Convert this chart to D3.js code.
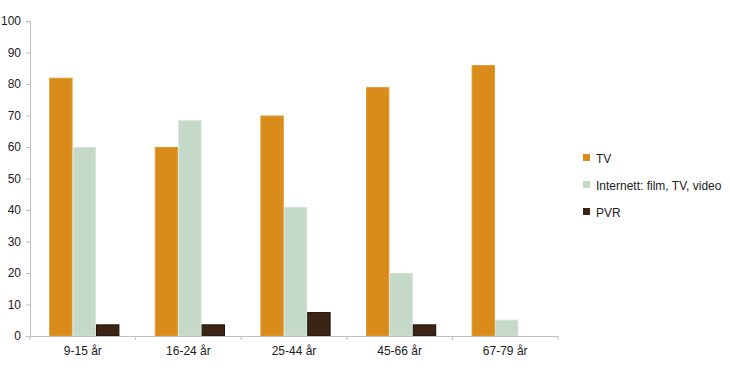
<!DOCTYPE html>
<html><head><meta charset="utf-8">
<script src="https://cdn.jsdelivr.net/npm/d3@7/dist/d3.min.js"></script>
<style>body{margin:0;background:#fff}svg{display:block}text{font-family:"Liberation Sans",Arial,sans-serif}</style>
</head><body><svg id="c" width="730" height="375"></svg>
<script>
const categories = ["9-15 år","16-24 år","25-44 år","45-66 år","67-79 år"];
const seriesNames = ["TV","Internett: film, TV, video","PVR"];
const tv = [82, 60, 70, 79, 86];
const internet = [60, 68.5, 41, 20, 5.2];
const pvr = [3.7, 3.7, 7.6, 3.7, 0];
const yTicks = [0,10,20,30,40,50,60,70,80,90,100];
const colors = ["#D98C1A","#C5D9C9","#3C2415"];
const strokes = ["#E09A35","#D6E4D8","#1E120A"];

const series = [tv, internet, pvr];
const svg = d3.select("#c");
const m = {l:30, r:172, t:21, b:39};
const W = 730, H = 375;
const x = d3.scaleBand().domain(categories).range([m.l, W - m.r]).paddingInner(0).paddingOuter(0);
const y = d3.scaleLinear().domain([0,100]).range([H - m.b, m.t]);
const groupW = x.bandwidth() * 0.665;
const x1 = d3.scaleBand().domain(d3.range(series.length)).range([0, groupW]);

// y axis
const ya = svg.append("g").attr("transform", `translate(${m.l},0)`)
  .call(d3.axisLeft(y).tickValues(yTicks).tickSize(4).tickPadding(5));
ya.select(".domain").attr("stroke","#bfbfbf");
ya.selectAll(".tick line").attr("stroke","#bfbfbf");
ya.selectAll("text").attr("font-size", 12).attr("fill","#222");

// bars
categories.forEach((c, ci) => {
  const x0 = x(c) + (x.bandwidth() - groupW)/2 + 1.5;
  series.forEach((s, si) => {
    const v = s[ci];
    if (!v) return;
    svg.append("rect")
      .attr("x", x0 + x1(si) + 0.5)
      .attr("y", y(v) + 0.5)
      .attr("width", x1.bandwidth() - 1)
      .attr("height", y(0) - y(v) - 0.5)
      .attr("fill", colors[si])
      .attr("stroke", strokes[si])
      .attr("stroke-width", 1);
  });
});

// x axis
const xa = svg.append("g").attr("transform", `translate(0,${y(0)})`)
  .call(d3.axisBottom(x).tickSize(0).tickPadding(10));
xa.select(".domain").attr("stroke","#bfbfbf");
xa.selectAll("text").attr("font-size", 12).attr("fill","#222");
const bounds = categories.map(c => x(c)).concat([x(categories[categories.length-1]) + x.bandwidth()]);
svg.append("g").selectAll("line").data(bounds).join("line")
  .attr("x1", d => d).attr("x2", d => d)
  .attr("y1", y(0)).attr("y2", y(0) + 4)
  .attr("stroke","#bfbfbf");

// legend
const lg = svg.append("g").attr("transform","translate(583,0)");
const ly = [158, 185, 212];
seriesNames.forEach((n, i) => {
  lg.append("rect").attr("x",0).attr("y",ly[i]-4).attr("width",7).attr("height",7).attr("fill",colors[i]);
  lg.append("text").attr("x",13).attr("y",ly[i]+4.5).attr("font-size",12).attr("fill","#222").text(n);
});
</script></body></html>
